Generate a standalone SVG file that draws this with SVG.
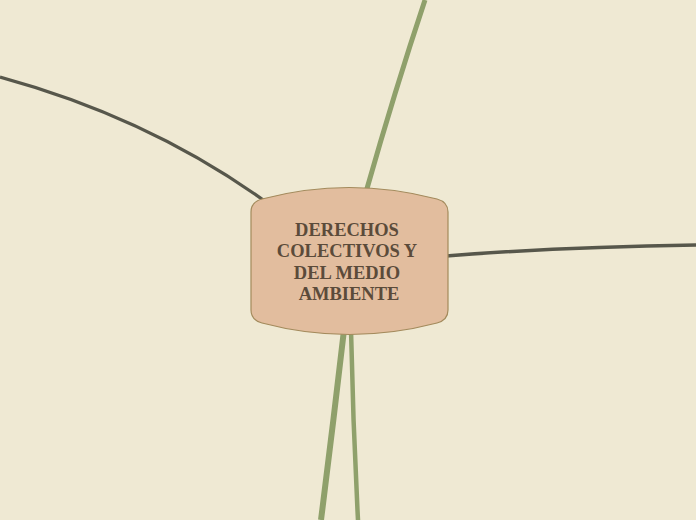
<svg xmlns="http://www.w3.org/2000/svg" width="696" height="520" viewBox="0 0 696 520">
<style>
.dark{fill:none;stroke:#57574b;stroke-linecap:butt}
.green{fill:none;stroke:#8fa06b;stroke-linecap:butt}
.node{fill:#e2bd9e;stroke:#a38a5c;stroke-width:1.2}
.lbl{font-family:"Liberation Serif","Times New Roman",serif;font-weight:bold;font-size:18.5px;fill:#5b4b3a;text-anchor:middle}
</style>
<rect width="696" height="520" fill="#efe9d3"/>
<g id="connectors">
<path class="dark" d="M0,77 Q150,118 266,202" stroke-width="3.2"/>
<path class="green" d="M425,0 Q395,90 366,192" stroke-width="5"/>
<path class="dark" d="M446,256 Q560,247 696,245" stroke-width="3.5"/>
<path class="green" d="M344,330 Q333,425 321,520" stroke-width="6"/>
<path class="green" d="M351,330 Q353,425 358,520" stroke-width="4.5"/>
</g>
<g id="node-main">
<path class="node" d="M251,212 Q251,202 262,199 Q349,176 437,199 Q448,202 448,212 L448,310 Q448,320 437,323 Q349,346 262,323 Q251,320 251,310 Z"/>
<text class="lbl" x="347" y="236">DERECHOS</text>
<text class="lbl" x="347" y="257">COLECTIVOS Y</text>
<text class="lbl" x="347" y="279">DEL MEDIO</text>
<text class="lbl" x="349" y="300">AMBIENTE</text>
</g>
</svg>
